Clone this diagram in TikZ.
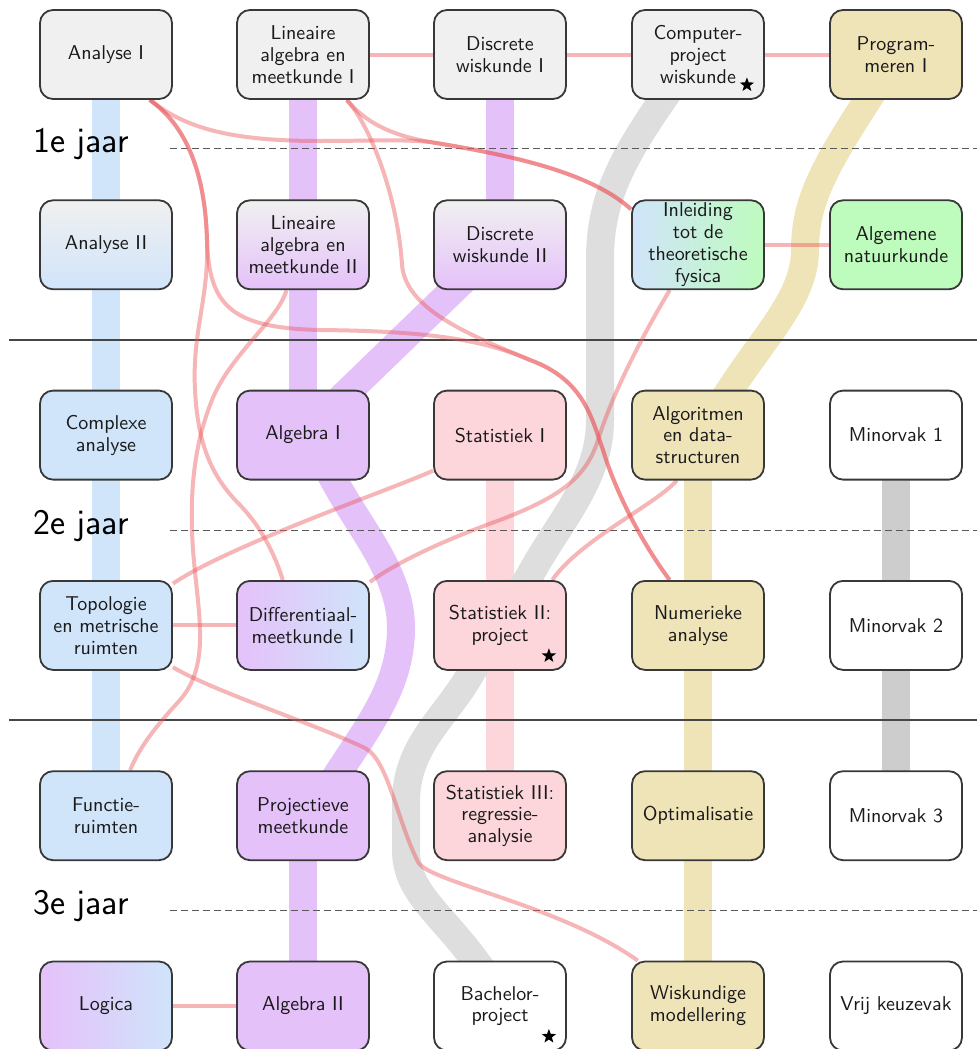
\documentclass[tikz,border=0pt]{standalone}
\usepackage{fontspec}
\usetikzlibrary{shapes.geometric}

\definecolor{cgray}{RGB}{240,240,240}
\definecolor{cblue}{RGB}{208,228,250}
\definecolor{cpurple}{RGB}{229,193,250}
\definecolor{cpink}{RGB}{253,214,220}
\definecolor{ctan}{RGB}{239,228,184}
\definecolor{cgreen}{RGB}{190,252,190}
\definecolor{bandgray}{RGB}{222,222,222}
\definecolor{banddark}{RGB}{205,205,205}
\definecolor{reqred}{RGB}{235,90,95}
\definecolor{rulegray}{RGB}{70,70,70}

\pgfdeclarelayer{bands}
\pgfdeclarelayer{links}
\pgfsetlayers{bands,links,main}

\begin{document}
\begin{tikzpicture}[x=0.5pt,y=-0.5pt,
  course/.style={draw=black!78, line width=0.9pt, rounded corners=6.5pt,
    minimum width=66pt, minimum height=44.5pt, inner sep=0pt, align=center,
    text=black!90, font=\sffamily\fontsize{10}{10.9}\selectfont},
  band/.style={line width=14pt},
  req/.style={draw=reqred, line width=2pt, opacity=0.45},
  yearsep/.style={draw=black!65, line width=0.5pt, dash pattern=on 3.5pt off 2pt},
  termsep/.style={draw=rulegray, line width=0.7pt},
  yearlabel/.style={anchor=mid west, inner sep=0pt, font=\sffamily\fontsize{18}{20}\selectfont},
  projstar/.style={star, star points=5, star point ratio=2.4, fill=black,
    draw=none, inner sep=0pt, minimum size=7.5pt},
]
\useasboundingbox (0,0) rectangle (977,1049);

% ---------- courses ----------
% year 1, first semester
\node[course, fill=cgray] (A1)  at (106,54.5) {Analyse I};
\node[course, fill=cgray] (LA1) at (303,54.5) {Lineaire\\algebra en\\meetkunde I};
\node[course, fill=cgray] (DW1) at (500,54.5) {Discrete\\wiskunde I};
\node[course, fill=cgray] (CP)  at (698,54.5) {Computer-\\project\\wiskunde};
\node[course, fill=ctan]  (PR1) at (896,54.5) {Program-\\meren I};
% year 1, second semester
\node[course, top color=cgray, bottom color=cblue]   (A2)  at (106,244.8) {Analyse II};
\node[course, top color=cgray, bottom color=cpurple] (LA2) at (303,244.8) {Lineaire\\algebra en\\meetkunde II};
\node[course, top color=cgray, bottom color=cpurple] (DW2) at (500,244.8) {Discrete\\wiskunde II};
\node[course, left color=cblue, right color=cgreen]  (IF)  at (698,244.8) {Inleiding\\tot de\\theoretische\\fysica};
\node[course, fill=cgreen] (AN) at (896,244.8) {Algemene\\natuurkunde};
% year 2, first semester
\node[course, fill=cblue]   (CA)  at (106,435.1) {Complexe\\analyse};
\node[course, fill=cpurple] (AL1) at (303,435.1) {Algebra I};
\node[course, fill=cpink]   (ST1) at (500,435.1) {Statistiek I};
\node[course, fill=ctan]    (ADS) at (698,435.1) {Algoritmen\\en data-\\structuren};
\node[course, fill=white]   (M1)  at (896,435.1) {Minorvak 1};
% year 2, second semester
\node[course, fill=cblue] (TOP) at (106,625.4) {Topologie\\en metrische\\ruimten};
\node[course, left color=cpurple, right color=cblue] (DM) at (303,625.4) {Differentiaal-\\meetkunde I};
\node[course, fill=cpink] (ST2) at (500,625.4) {Statistiek II:\\project};
\node[course, fill=ctan]  (NA)  at (698,625.4) {Numerieke\\analyse};
\node[course, fill=white] (M2)  at (896,625.4) {Minorvak 2};
% year 3, first semester
\node[course, fill=cblue]   (FR)  at (106,815.7) {Functie-\\ruimten};
\node[course, fill=cpurple] (PM)  at (303,815.7) {Projectieve\\meetkunde};
\node[course, fill=cpink]   (ST3) at (500,815.7) {Statistiek III:\\regressie-\\analysie};
\node[course, fill=ctan]    (OPT) at (698,815.7) {Optimalisatie};
\node[course, fill=white]   (M3)  at (896,815.7) {Minorvak 3};
% year 3, second semester
\node[course, left color=cpurple, right color=cblue] (LOG) at (106,1006) {Logica};
\node[course, fill=cpurple] (AL2) at (303,1006) {Algebra II};
\node[course, fill=white]   (BP)  at (500,1006) {Bachelor-\\project};
\node[course, fill=ctan]    (WM)  at (698,1006) {Wiskundige\\modellering};
\node[course, fill=white]   (VK)  at (896,1006) {Vrij keuzevak};

% project courses
\node[projstar] (CPstar) at ([shift={(-18,-15)}]CP.south east) {};
\node[projstar] (STstar) at ([shift={(-18,-15)}]ST2.south east) {};
\node[projstar] (BPstar) at ([shift={(-18,-15)}]BP.south east) {};

% ---------- year labels ----------
\node[yearlabel] (Y1) at (33,148) {1e jaar};
\node[yearlabel] (Y2) at (33,530) {2e jaar};
\node[yearlabel] (Y3) at (33,910) {3e jaar};

% ---------- learning lines ----------
\begin{pgfonlayer}{bands}
  \draw[band, cblue] (A1.center) -- (FR.center);
  \draw[band, cpurple] (LA1.center) -- (AL1.center);
  \draw[band, cpurple] (DW1.center) -- (DW2.center);
  \draw[band, cpurple] (DW2.center) -- (AL1.center);
  \draw[band, cpurple, shorten <=-8pt, shorten >=-8pt]
    (AL1.-56) .. controls (355,525) and (402,570) .. (401,630)
              .. controls (400,690) and (365,730) .. (PM.51);
  \draw[band, cpurple] (PM.center) -- (AL2.center);
  \draw[band, cpink] (ST1.center) -- (ST3.center);
  \draw[band, bandgray, shorten <=-8pt, shorten >=-8pt]
    (CP.-128) .. controls (620,160) and (600,200) .. (600,260)
      -- (600,420) .. controls (600,480) and (560,520) .. (530,575)
      -- (470,675) .. controls (445,718) and (407,745) .. (406,800)
      -- (406,850) .. controls (406,895) and (445,915) .. (BP.118);
  \draw[band, ctan, shorten <=-8pt, shorten >=-8pt]
    (PR1.-122) .. controls (825,165) and (805,200) .. (805,250)
               .. controls (805,300) and (760,340) .. (ADS.55);
  \draw[band, ctan] (ADS.center) -- (WM.center);
  \draw[band, banddark] (M1.center) -- (M3.center);
\end{pgfonlayer}

% ---------- separators and prerequisites ----------
\begin{pgfonlayer}{links}
  \draw[termsep] (9,340) -- (977,340);
  \draw[termsep] (9,720) -- (977,720);
  \draw[yearsep] (170,148) -- (977,148);
  \draw[yearsep] (170,530) -- (977,530);
  \draw[yearsep] (170,910) -- (977,910);

  \draw[req] (LA1) -- (DW1);
  \draw[req] (DW1) -- (CP);
  \draw[req] (CP) -- (PR1);
  \draw[req] (IF) -- (AN);
  \draw[req] (TOP) -- (DM);
  \draw[req] (LOG) -- (AL2);

  % Analyse I -> Inleiding tot de theoretische fysica
  \draw[req] (A1.-46) .. controls (185,128) and (230,141) .. (320,141)
                      .. controls (370,141) and (400,139) .. (430,142)
                      .. controls (510,155) and (590,172) .. (IF.152);
  % Lineaire algebra I -> Inleiding tot de theoretische fysica
  \draw[req] (LA1.-46) .. controls (365,122) and (390,135) .. (430,142)
                       .. controls (510,155) and (590,172) .. (IF.152);
  % Analyse I -> Numerieke analyse
  \draw[req] (A1.-46) .. controls (185,125) and (205,170) .. (207,240)
                      .. controls (209,305) and (230,328) .. (320,330)
                      .. controls (420,331) and (480,338) .. (530,360)
                      .. controls (585,380) and (592,420) .. (603,450)
                      .. controls (615,490) and (640,540) .. (NA.122);
  % Lineaire algebra I -> Numerieke analyse
  \draw[req] (LA1.-46) .. controls (372,128) and (398,200) .. (402,265)
                       .. controls (406,310) and (470,335) .. (530,360)
                       .. controls (585,380) and (592,420) .. (603,450)
                       .. controls (615,490) and (640,540) .. (NA.122);
  % Analyse I -> Differentiaalmeetkunde I
  \draw[req] (A1.-46) .. controls (185,125) and (205,170) .. (207,240)
                      .. controls (209,300) and (192,330) .. (195,390)
                      .. controls (198,450) and (215,480) .. (240,505)
                      .. controls (262,528) and (275,555) .. (DM.114);
  % Lineaire algebra II -> Functieruimten
  \draw[req] (LA2.-110) .. controls (278,320) and (230,355) .. (212,400)
                        .. controls (200,430) and (190,470) .. (192,530)
                        .. controls (194,600) and (215,660) .. (180,700)
                        .. controls (160,722) and (140,745) .. (FR.62);
  % Statistiek I -> Topologie
  \draw[req] (ST1.-152) .. controls (390,490) and (230,545) .. (TOP.32);
  % Inleiding tot de theoretische fysica -> Differentiaalmeetkunde I
  \draw[req] (IF.-122) .. controls (640,340) and (612,395) .. (598,440)
                       .. controls (586,478) and (560,497) .. (500,520)
                       .. controls (450,538) and (400,560) .. (DM.33);
  % Algoritmen en datastructuren -> Statistiek II
  \draw[req] (ADS.-115) .. controls (655,505) and (580,540) .. (ST2.41);
  % Topologie -> Wiskundige modellering
  \draw[req] (TOP.-32) .. controls (215,692) and (310,722) .. (365,748)
                       .. controls (388,760) and (397,820) .. (418,862)
                       .. controls (428,882) and (560,905) .. (WM.143);
\end{pgfonlayer}
\end{tikzpicture}
\end{document}
